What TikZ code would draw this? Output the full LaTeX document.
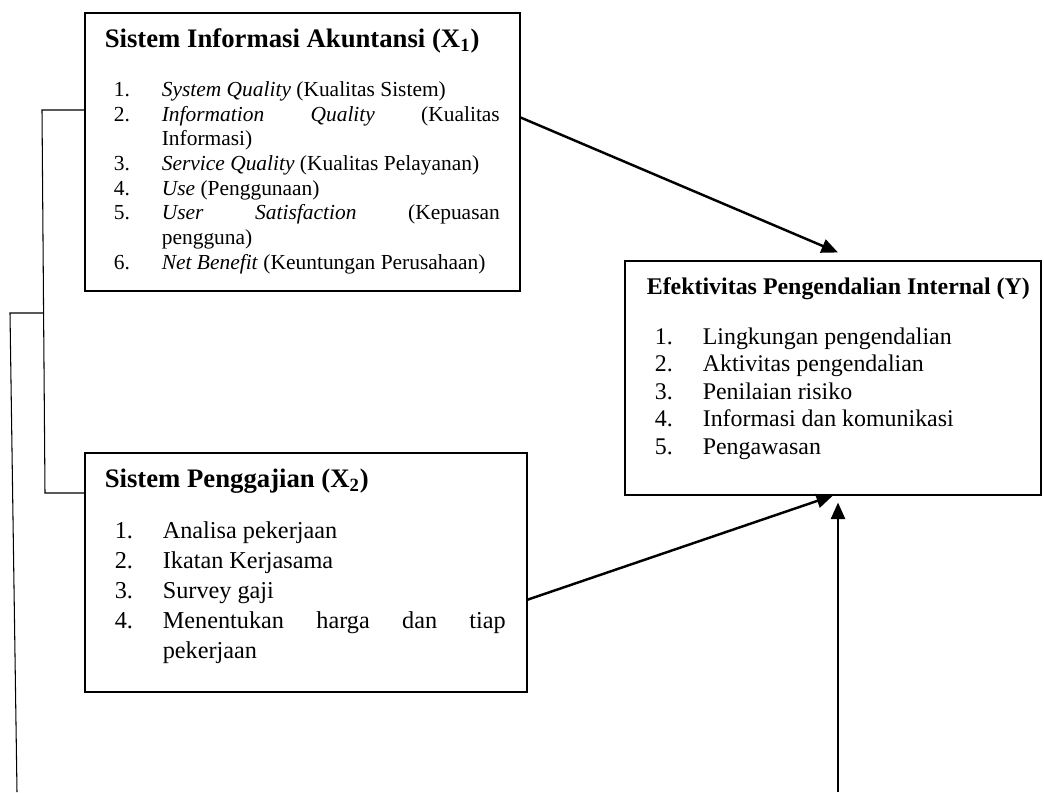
\documentclass[tikz,border=0pt]{standalone}
\usepackage{fontspec}
\setmainfont{Liberation Serif}
\usetikzlibrary{positioning}
\usetikzlibrary{calc}
\usetikzlibrary{arrows.meta}
\newlength\pu
\setlength\pu{0.2mm}
\newcommand\nitem[1]{\noindent\llap{\makebox[48\pu][l]{#1}}}

\begin{document}
\begin{tikzpicture}[x=0.2mm, y=-0.2mm,
  box/.style={draw, line width=0.6pt, inner sep=0pt},
  ttl/.style={anchor=base west, inner sep=0pt, font=\bfseries},
  lst/.style={anchor=base west, inner sep=0pt, align=justify},
  link/.style={line width=0.6pt},
  arr/.style={line width=1.4pt, -{Triangle[length=3.3mm,width=2.8mm]}}]
\useasboundingbox (0,0) rectangle (1044,792);
% -- boxes --
\node[box, minimum width=435\pu, minimum height=278\pu] (x1) at (302.5,152) {};
\node[box, minimum width=416\pu, minimum height=234\pu] (y) at (833,378) {};
\node[box, minimum width=442\pu, minimum height=239\pu] (x2) at (306,572.5) {};
% -- X1 --
\node[ttl, font=\fontsize{15.2}{18}\selectfont\bfseries] (x1ttl) at ([shift={(20,35)}]x1.north west) {Sistem Informasi Akuntansi (X\textsubscript{1})};
\node[lst, text width=385\pu, font=\fontsize{12.2}{24.7\pu}\selectfont] (x1lst) at ([shift={(30,84)}]x1.north west) {\leftskip=47\pu
\nitem{1.}\textit{System Quality} (Kualitas Sistem)\par
\nitem{2.}\textit{Information}\hfill\textit{Quality}\hfill(Kualitas\newline Informasi)\par
\nitem{3.}\textit{Service Quality} (Kualitas Pelayanan)\par
\nitem{4.}\textit{Use} (Penggunaan)\par
\nitem{5.}\textit{User}\hfill\textit{Satisfaction}\hfill(Kepuasan\newline pengguna)\par
\nitem{6.}\textit{Net Benefit} (Keuntungan Perusahaan)\par};
% -- Y --
\node[ttl, font=\fontsize{13.6}{16}\selectfont\bfseries] (yttl) at ([shift={(22,34)}]y.north west) {Efektivitas Pengendalian Internal (Y)};
\node[lst, text width=385\pu, font=\fontsize{13.6}{27.5\pu}\selectfont] (ylst) at ([shift={(30,84)}]y.north west) {\leftskip=48\pu
\nitem{1.}Lingkungan pengendalian\par
\nitem{2.}Aktivitas pengendalian\par
\nitem{3.}Penilaian risiko\par
\nitem{4.}Informasi dan komunikasi\par
\nitem{5.}Pengawasan\par};
% -- X2 --
\node[ttl, font=\fontsize{15.2}{18}\selectfont\bfseries] (x2ttl) at ([shift={(20,35)}]x2.north west) {Sistem Penggajian (X\textsubscript{2})};
\node[lst, text width=391\pu, font=\fontsize{13.8}{30\pu}\selectfont] (x2lst) at ([shift={(30,86)}]x2.north west) {\leftskip=48\pu
\nitem{1.}Analisa pekerjaan\par
\nitem{2.}Ikatan Kerjasama\par
\nitem{3.}Survey gaji\par
\nitem{4.}Menentukan\hfill harga\hfill dan\hfill tiap\newline pekerjaan\par};
% -- bracket on the left --
\coordinate (b1) at (42,110);
\coordinate (b2) at (45,493);
\coordinate (bj) at ($(b1)!0.53!(b2)$);
\coordinate (b3) at (10,313);
\coordinate (b4) at (17,792);
\draw[link] ([shift={(0,-42)}]x1.west) -- (b1) -- (b2) -- ([shift={(0,-79.5)}]x2.west);
\draw[link] (bj) -- (b3) -- (b4);
% -- arrows --
\coordinate (ybot) at (838,792);
\draw[arr] (x1.9) -- ([shift={(5,-8)}]y.north);
\draw[arr] (x2.-7) -- (y.south);
\draw[arr] (ybot) -- ([shift={(5,7)}]y.south);
\end{tikzpicture}
\end{document}
